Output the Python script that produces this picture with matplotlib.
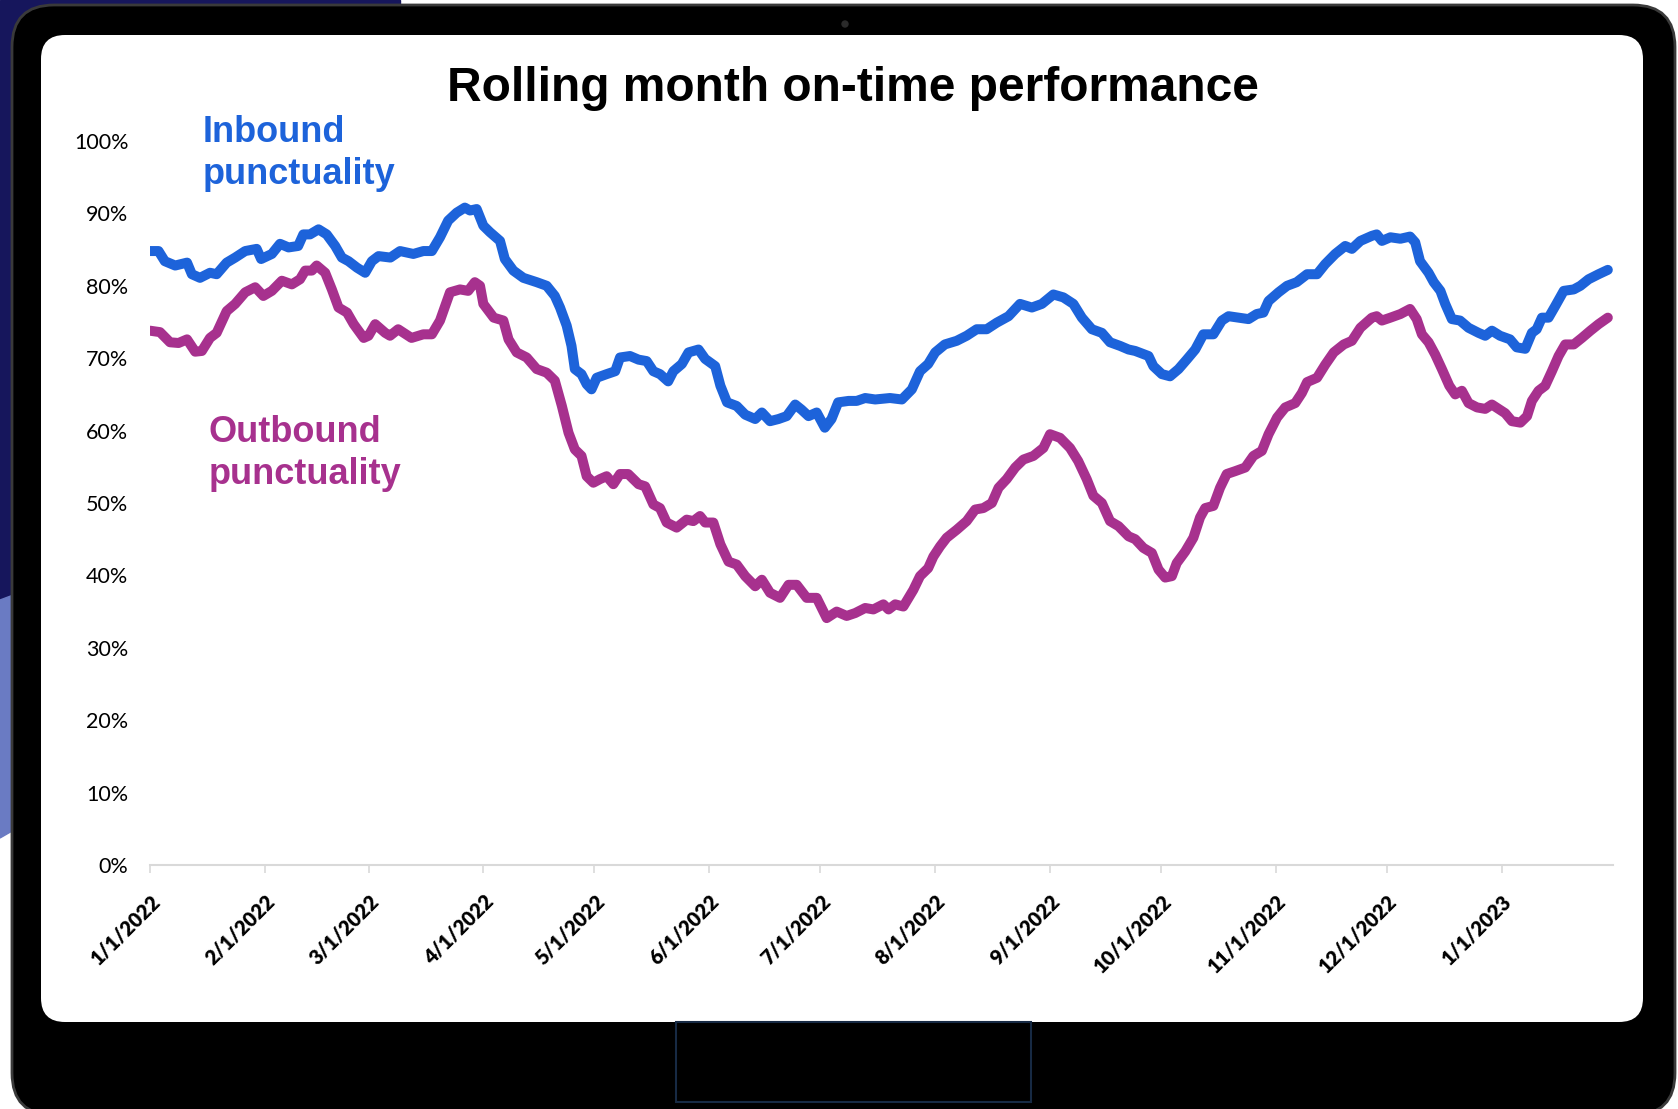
import matplotlib
matplotlib.use("Agg")
import matplotlib.pyplot as plt
import matplotlib.dates as mdates
from matplotlib.patches import FancyBboxPatch, Rectangle, Polygon, Circle
from matplotlib.ticker import PercentFormatter, FuncFormatter
import pandas as pd

W, H = 1678, 1109

# days since 1/1/2022 and rolling on-time %
in_days = [0, 2.3, 4, 6.8, 10, 11.3, 13.5, 16.2, 18, 20.7, 23, 25.7, 28.8, 30, 32.9, 35.1, 37.4, 40, 41.4, 43.2,
           45.5, 47.7, 50, 51.8, 53.6, 55.9, 58.1, 59.9, 61.7, 64.9,
           67.5, 71.1, 73.8, 76.1, 78.3, 80.5, 82.8, 85, 86.4, 88.2, 90, 91.8, 94.5, 95.8, 98.1, 100.8, 104.4, 107.1,
           109.3, 110.7, 112.5, 113.8, 114.7, 116.5, 117.9, 119.2, 120.6, 123.3, 125.6, 126.9, 129.6, 131.9,
           134.1, 135.9, 137.7, 139.9, 141.3, 143.6, 145.4, 148.1, 149.9, 152.6, 154, 155.8, 158.4, 160.7, 163.4,
           165.2, 167.4, 169.7, 171.9, 174.2, 175.9, 177.8, 180, 182.2, 184, 185.8, 188.6, 190.8, 193.1, 195.8,
           199.8, 203, 205.7, 207.9, 210.1, 212, 214.6, 217.8, 220.5, 223.2, 225.9, 228.6, 231.8, 234.9, 238.1,
           240.8, 243.9, 246.6, 249.3, 251.6, 254.3, 257, 259.2, 261.9, 264.2,
           266, 269.6, 270.9, 273.2, 275.4, 277.7, 279.9, 282.2, 284.4, 287.1, 289.4, 291.2, 293.9, 296.6, 298.8,
           300.6, 302, 304.7, 307, 309.6, 312.4, 315.1, 317.3, 320, 322.7, 324.5, 326.8, 329.9,
           331.2, 332.6, 334.9, 337.6, 340.2, 341.6, 342.9, 345.2, 346.6, 348.4, 349.7, 351.5, 353.7, 356, 358.7,
           360.5, 362.3, 364.5, 367.2, 369, 371.3, 373.1, 374.4, 375.8, 377.6, 379.4, 381.7, 384.4, 386.2, 388.4,
           391.1, 393.6]
in_vals = [84.8, 84.8, 83.4, 82.8, 83.2, 81.6, 81.1, 81.8, 81.6, 83.2, 83.9, 84.8, 85.1, 83.7, 84.4, 85.8, 85.3, 85.5, 87.1, 87.1,
           87.8, 87.1, 85.5, 83.9, 83.4, 82.5, 81.8, 83.4, 84.1, 83.9,
           84.8, 84.4, 84.8, 84.8, 86.7, 89.0, 90.1, 90.8, 90.4, 90.6, 88.3, 87.4, 86.2, 83.7, 82.1, 81.1, 80.5, 80.0,
           78.6, 77.0, 74.5, 71.7, 68.5, 67.8, 66.4, 65.7, 67.3, 67.8, 68.2, 70.1, 70.3, 69.8,
           69.6, 68.2, 67.8, 66.8, 68.2, 69.2, 70.8, 71.2, 69.9, 68.9, 66.2, 63.9, 63.4, 62.2, 61.6,
           62.5, 61.3, 61.6, 62.0, 63.6, 62.9, 62.0, 62.5, 60.4, 61.6, 63.9, 64.1, 64.1, 64.5, 64.3,
           64.5, 64.3, 65.7, 68.2, 69.2, 70.8, 71.9, 72.4, 73.1, 74.0, 74.0, 74.9, 75.8, 77.5, 77.0,
           77.5, 78.8, 78.4, 77.5, 75.6, 74.0, 73.5, 72.2, 71.7, 71.2,
           71.0, 70.3, 68.9, 67.8, 67.5, 68.5, 69.8, 71.2, 73.3, 73.3, 75.2, 75.8, 75.6, 75.4, 76.1,
           76.3, 77.9, 79.1, 80.0, 80.5, 81.6, 81.6, 83.0, 84.4, 85.5, 85.1, 86.2, 86.9,
           87.1, 86.2, 86.7, 86.5, 86.8, 86.0, 83.4, 81.8, 80.5, 79.3, 77.5, 75.4, 75.2, 74.2, 73.5,
           73.1, 73.8, 73.1, 72.6, 71.5, 71.3, 73.5, 74.0, 75.6, 75.6, 77.2, 79.3, 79.5, 80.0, 80.9,
           81.6, 82.2]

out_days = [0, 2.7, 5.4, 7.7, 10, 12.2, 14, 16.2, 18, 20.7, 23, 25.7, 28.4, 30.6, 32.9, 35.6, 38.3, 40.5, 41.9, 43.7,
            45, 47.3, 49.1, 50.9, 53.2, 55, 57.7, 59, 60.8, 63.5,
            64.8, 67, 70.6, 73.8, 76.1, 78.3, 81, 83.7, 85.9, 87.7, 89.1, 90, 92.8, 95.4, 96.8, 99, 101.7, 104.4,
            107.1, 109.3, 111.2, 113, 114.7, 116.5, 117.9, 119.7, 121.5, 123.3, 125.1, 126.9, 129.1, 131.9,
            133.7, 135.9, 137.7, 139.5, 142.2, 144.9, 146.7, 148.5, 149.9, 152.1, 154, 156.2, 158.4, 160.7, 163.4,
            165.2, 167.4, 170.1, 172.4, 174.6, 177.3, 180, 182.7, 185.4, 188.1, 190.4, 193.1, 195.3, 198,
            199.4, 201.2, 203.4, 206.1, 207.9, 210.1, 211.5, 213.3, 215.1, 217.8, 220.5, 222.8, 225, 227.3, 229.1,
            231.3, 233.6, 235.8, 238.5, 241.2, 243, 245.7, 248.4, 250.6, 252.9, 254.7, 257, 259.2, 261.5, 264.2,
            266, 268.2, 270.5, 272.3, 274.1, 275.9, 277.2, 279.5, 281.7, 283.5, 284.9, 287.1, 288.9, 290.7, 293,
            295.7, 297.9, 300.2, 302, 304.3, 306.5, 309.2, 311, 312.4, 315.1, 317.3, 319.6, 322.3, 324.5, 326.8,
            329.9,
            331.2, 332.6, 334.9, 337.6, 340.2, 342, 343.4, 345.2, 347, 348.8, 350.8, 352.4, 354.2, 356, 358.3,
            360.5, 362.3, 364.1, 365.9, 367.7, 370, 371.8, 373.1, 374.9, 376.7, 378.5, 380.3, 382.1, 384.4, 386.6,
            388.9, 391.1, 393.6]
out_vals = [73.8, 73.6, 72.2, 72.1, 72.6, 70.9, 71.0, 72.8, 73.5, 76.5, 77.5, 79.1, 79.8, 78.6, 79.3, 80.7, 80.2, 80.9, 82.1, 82.1,
            82.8, 81.8, 79.5, 77.0, 76.3, 74.7, 72.8, 73.1, 74.7, 73.5,
            73.1, 74.0, 72.8, 73.3, 73.3, 75.2, 79.1, 79.5, 79.3, 80.5, 80.0, 77.5, 75.6, 75.2, 72.6, 70.8, 70.1, 68.5,
            68.0, 66.9, 63.4, 59.7, 57.4, 56.5, 53.7, 52.8, 53.3, 53.7, 52.6, 54.0, 54.0, 52.6,
            52.3, 49.8, 49.3, 47.3, 46.6, 47.7, 47.5, 48.2, 47.3, 47.3, 44.3, 41.9, 41.5, 39.9, 38.5,
            39.4, 37.6, 36.9, 38.7, 38.7, 36.9, 36.9, 34.1, 35.0, 34.4, 34.8, 35.5, 35.3, 36.0,
            35.3, 36.0, 35.7, 38.0, 39.9, 41.0, 42.6, 44.0, 45.2, 46.3, 47.5, 49.1, 49.3, 50.0, 52.1,
            53.3, 54.9, 56.0, 56.5, 57.6, 59.5, 59.0, 57.6, 55.8, 53.3, 51.0, 50.0, 47.5, 46.8, 45.4,
            45.0, 43.8, 43.1, 40.8, 39.7, 39.9, 41.7, 43.3, 45.2, 48.0, 49.3, 49.6, 52.1, 54.0, 54.4,
            54.9, 56.5, 57.2, 59.5, 61.8, 63.2, 63.8, 65.2, 66.7, 67.3, 69.1, 70.8, 71.9, 72.4, 74.2,
            75.6,
            75.8, 75.2, 75.6, 76.1, 76.8, 75.4, 73.3, 72.2, 70.5, 68.5, 66.2, 65.0, 65.5, 63.8, 63.2,
            63.0, 63.6, 63.0, 62.4, 61.3, 61.1, 62.0, 64.1, 65.5, 66.2, 68.2, 70.3, 71.9, 71.9, 72.8,
            73.8, 74.7, 75.6]

start = pd.Timestamp("2022-01-01")
in_dates = start + pd.to_timedelta(in_days, unit="D")
out_dates = start + pd.to_timedelta(out_days, unit="D")

blue = "#1d63da"
purple = "#a7318e"


def px(x, y):
    return x / W, 1 - y / H


fig = plt.figure(figsize=(W / 100, H / 100), dpi=100)
fig.patch.set_facecolor("white")

# tablet frame drawn in pixel space
bg = fig.add_axes([0, 0, 1, 1], zorder=0)
bg.set_xlim(0, W)
bg.set_ylim(H, 0)
bg.axis("off")
bg.add_patch(Rectangle((0, 0), 400, 610, color="#16165c"))
bg.add_patch(Polygon([(0, 600), (40, 585), (40, 815), (0, 838)], color="#6a7bc3"))
bg.add_patch(FancyBboxPatch((12, 5), 1663, 1110, boxstyle="round,pad=0,rounding_size=42",
                            facecolor="black", edgecolor="#3a3a3a", linewidth=2))
bg.add_patch(FancyBboxPatch((41, 35), 1602, 987, boxstyle="round,pad=0,rounding_size=24",
                            facecolor="white", edgecolor="none"))
bg.add_patch(Circle((845, 24), 3, color="#2b2b2b"))
bg.add_patch(Rectangle((676, 1022), 355, 80, fill=False, edgecolor="#172a44", linewidth=1.5))

# chart
ax = fig.add_axes([150 / W, 1 - 865 / H, 1463 / W, 724 / H], zorder=1)
ax.patch.set_visible(False)
ax.plot(in_dates, in_vals, color=blue, lw=7.2, solid_capstyle="round", solid_joinstyle="round")
ax.plot(out_dates, out_vals, color=purple, lw=7.2, solid_capstyle="round", solid_joinstyle="round")

ax.set_xlim(start, start + pd.Timedelta(days=395))
ax.set_ylim(0, 100)
ax.set_yticks(range(0, 101, 10))
ax.yaxis.set_major_formatter(PercentFormatter(100, decimals=0))
ax.xaxis.set_major_locator(mdates.MonthLocator())
ax.xaxis.set_major_formatter(FuncFormatter(
    lambda v, pos: "{d.month}/{d.day}/{d.year}".format(d=mdates.num2date(v))))

for s in ["top", "right", "left"]:
    ax.spines[s].set_visible(False)
ax.spines["bottom"].set_color("#d9d9d9")
ax.spines["bottom"].set_linewidth(1.5)
ax.tick_params(axis="y", length=0, pad=15.5, labelsize=15.5)
ax.tick_params(axis="x", length=6, width=1.2, color="#d9d9d9", pad=13, labelsize=14.5)
for lab in ax.get_yticklabels():
    lab.set_family("Lato")
for lab in ax.get_xticklabels():
    lab.set_family("Lato")
    lab.set_fontweight("heavy")
    lab.set_rotation(45)
    lab.set_ha("right")
    lab.set_rotation_mode("anchor")

fig.text(*px(853, 101), "Rolling month on-time performance", ha="center", va="baseline",
         fontsize=34.5, fontweight="bold", family="Liberation Sans")
fig.text(*px(203, 142), "Inbound", color=blue, fontsize=26, fontweight="bold", family="Liberation Sans")
fig.text(*px(203, 184), "punctuality", color=blue, fontsize=26, fontweight="bold", family="Liberation Sans")
fig.text(*px(209, 442), "Outbound", color=purple, fontsize=26, fontweight="bold", family="Liberation Sans")
fig.text(*px(209, 484), "punctuality", color=purple, fontsize=26, fontweight="bold", family="Liberation Sans")

fig.savefig("out.png", dpi=100)
